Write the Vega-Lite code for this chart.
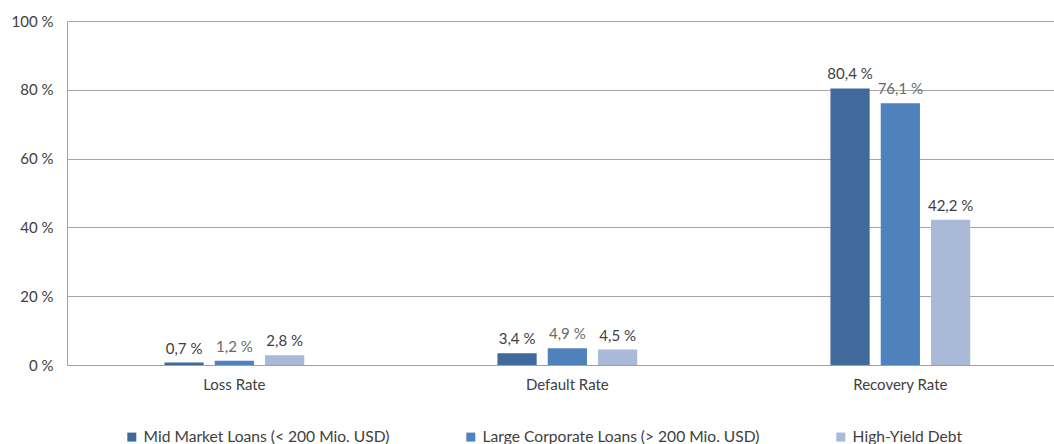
{
  "$schema": "https://vega.github.io/schema/vega-lite/v6.json",
  "width": 987,
  "height": 344,
  "autosize": {"type": "none"},
  "padding": {"left": 67, "top": 21, "right": 0, "bottom": 79},
  "background": "white",
  "config": {
    "font": "Lato",
    "locale": {
      "number": {"decimal": ",", "thousands": ".", "grouping": [3], "currency": ["", " €"], "percent": " %"}
    },
    "view": {"stroke": null},
    "axis": {"labelFont": "Lato", "labelFontSize": 15, "labelColor": "#404040", "domainColor": "#A0A0A0", "gridColor": "#A6A6A6", "ticks": false}
  },
  "data": {
    "values": [
      {"metric": "Loss Rate", "series": "Mid Market Loans (< 200 Mio. USD)", "value": 0.007},
      {"metric": "Loss Rate", "series": "Large Corporate Loans (> 200 Mio. USD)", "value": 0.012},
      {"metric": "Loss Rate", "series": "High-Yield Debt", "value": 0.028},
      {"metric": "Default Rate", "series": "Mid Market Loans (< 200 Mio. USD)", "value": 0.034},
      {"metric": "Default Rate", "series": "Large Corporate Loans (> 200 Mio. USD)", "value": 0.049},
      {"metric": "Default Rate", "series": "High-Yield Debt", "value": 0.045},
      {"metric": "Recovery Rate", "series": "Mid Market Loans (< 200 Mio. USD)", "value": 0.804},
      {"metric": "Recovery Rate", "series": "Large Corporate Loans (> 200 Mio. USD)", "value": 0.761},
      {"metric": "Recovery Rate", "series": "High-Yield Debt", "value": 0.422}
    ]
  },
  "encoding": {
    "x": {
      "field": "metric", "type": "nominal",
      "sort": ["Loss Rate", "Default Rate", "Recovery Rate"],
      "scale": {"paddingInner": 0.55, "paddingOuter": 0.257, "align": 0.54},
      "axis": {"title": null, "labelAngle": 0, "labelPadding": 12, "grid": false}
    },
    "xOffset": {
      "field": "series", "type": "nominal",
      "sort": ["Mid Market Loans (< 200 Mio. USD)", "Large Corporate Loans (> 200 Mio. USD)", "High-Yield Debt"],
      "scale": {"paddingInner": 0.22, "paddingOuter": 0.1}
    },
    "y": {
      "field": "value", "type": "quantitative",
      "scale": {"domain": [0, 1]},
      "axis": {"title": null, "values": [0, 0.2, 0.4, 0.6, 0.8, 1], "format": ".0%", "grid": true, "labelPadding": 14}
    }
  },
  "layer": [
    {
      "mark": {"type": "bar"},
      "encoding": {
        "color": {
          "field": "series", "type": "nominal",
          "sort": ["Mid Market Loans (< 200 Mio. USD)", "Large Corporate Loans (> 200 Mio. USD)", "High-Yield Debt"],
          "scale": {"range": ["#416A9C", "#4F81BD", "#A9B9D8"]},
          "legend": {
            "title": null, "orient": "none", "direction": "horizontal",
            "legendX": 57, "legendY": 408,
            "symbolType": "square", "symbolSize": 81, "symbolStrokeWidth": 0,
            "labelFont": "Lato", "labelFontSize": 15.6, "labelColor": "#404040",
            "columnPadding": 73, "labelOffset": 4, "labelLimit": 400
          }
        }
      }
    },
    {
      "mark": {"type": "text", "dy": -14, "fontSize": 15, "font": "Lato"},
      "encoding": {
        "text": {"field": "value", "type": "quantitative", "format": ".1%"},
        "color": {
          "condition": {"test": "datum.series === 'Large Corporate Loans (> 200 Mio. USD)'", "value": "#6A6A6A"},
          "value": "#404040"
        }
      }
    }
  ]
}
